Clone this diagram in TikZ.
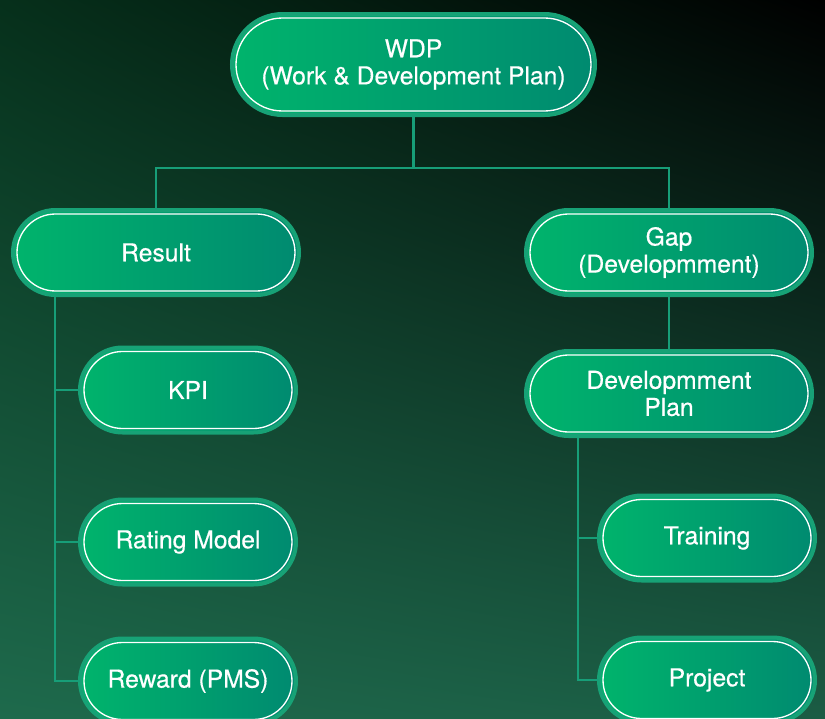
\documentclass[tikz,border=0pt]{standalone}
\usepackage{fontspec}
\setmainfont{TeX Gyre Heros}
\newfontfamily\pillfont{TeX Gyre Heros}[FakeBold=0.5]
\usetikzlibrary{shapes.misc,shadings}

\definecolor{bgtl}{HTML}{06301B}
\definecolor{bgbl}{HTML}{1E6A4C}
\definecolor{bgbr}{HTML}{1B5C44}
\definecolor{pillL}{HTML}{00B46C}
\definecolor{pillR}{HTML}{008A70}
\definecolor{rim}{HTML}{17A276}
\definecolor{wire}{HTML}{179E78}

\begin{document}
\begin{tikzpicture}[x=0.75pt, y=-0.75pt,
    pill/.style 2 args={rounded rectangle, inner sep=0pt, outer sep=0pt,
        minimum width=(#1-4)*0.75pt, minimum height=(#2-4)*0.75pt,
        left color=pillL, right color=pillR, draw=rim, line width=3pt,
        text=white, align=center, font=\pillfont\fontsize{18.5}{20.3}\selectfont},
    ring/.style 2 args={rounded rectangle, inner sep=0pt, outer sep=0pt,
        minimum width=(#1-12)*0.75pt, minimum height=(#2-12)*0.75pt,
        draw=white, line width=1pt},
    link/.style={wire, line width=1.8pt}]

    % background
    \path[use as bounding box, clip] (0,0) rectangle (825,718);
    \shade[upper left=bgtl, upper right=black, lower left=bgbl, lower right=bgbr]
        (0,0) rectangle (825,718);

    \coordinate (lbus) at (55,297);
    \coordinate (rbus) at (578,438);

    % boxes
    \node[pill={367}{105}] (wdp) at (413.5,64.5) {WDP\\(Work \& Development Plan)};
    \node[pill={290}{89}] (result) at (156,252.5) {Result};
    \node[pill={290}{89}] (gap) at (669,252.5) {Gap\\(Developmment)};
    \node[pill={290}{89}] (devplan) at (669,393.5) {Developmment\\Plan};

    \node[pill={220}{89}] (kpi) at (188,390) {KPI};
    \node[pill={220}{89}] (rating) at (188,542) {Rating Model};
    \node[pill={220}{89}] (reward) at (188,681) {Reward (PMS)};

    \node[pill={220}{89}] (training) at (707,538) {Training};
    \node[pill={220}{89}] (project) at (707,680) {Project};

    \node[ring={367}{105}] at (wdp) {};
    \node[ring={290}{89}] at (result) {};
    \node[ring={290}{89}] at (gap) {};
    \node[ring={290}{89}] at (devplan) {};
    \node[ring={220}{89}] at (kpi) {};
    \node[ring={220}{89}] at (rating) {};
    \node[ring={220}{89}] at (reward) {};
    \node[ring={220}{89}] at (training) {};
    \node[ring={220}{89}] at (project) {};

    % connectors
    \draw[link] (wdp.south) -- ++(0,53) -| (result.north);
    \draw[link] (wdp.south) -- ++(0,53) -| (gap.north);
    \draw[link] (gap.south) -- (devplan.north);

    \draw[link] (lbus) |- (kpi.west);
    \draw[link] (lbus) |- (rating.west);
    \draw[link] (lbus) |- (reward.west);

    \draw[link] (rbus) |- (training.west);
    \draw[link] (rbus) |- (project.west);

\end{tikzpicture}
\end{document}
